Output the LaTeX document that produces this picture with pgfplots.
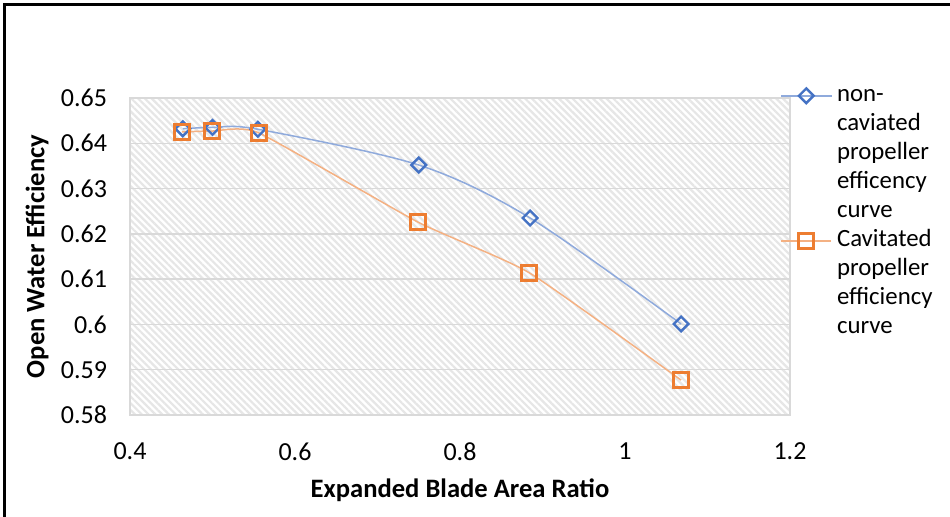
\documentclass[border=0pt]{standalone}
\usepackage{fontspec}
\setmainfont{Carlito}
\usepackage{pgfplots}
\pgfplotsset{compat=1.18}
\usetikzlibrary{patterns.meta}
\definecolor{bluemark}{HTML}{4472C4}
\definecolor{blueline}{HTML}{8FAADC}
\definecolor{orangemark}{HTML}{ED7D31}
\definecolor{orangeline}{HTML}{F4B183}
\definecolor{gridgray}{HTML}{D9D9D9}
\definecolor{hatchgray}{HTML}{E6E6E6}
\begin{document}
\begin{tikzpicture}
\useasboundingbox (0,0) rectangle (475pt,258.5pt);
\draw[line width=1.5pt] (2.25pt,-5pt) -- (2.25pt,256.25pt) -- (480pt,256.25pt);
\begin{axis}[
  at={(65pt,51pt)}, anchor=south west,
  scale only axis, width=330pt, height=158.5pt,
  xmin=0.4, xmax=1.2, ymin=0.58, ymax=0.65,
  xtick={0.4,0.6,0.8,1.0,1.2},
  xticklabels={0.4,0.6,0.8,1,1.2},
  ytick={0.58,0.59,0.60,0.61,0.62,0.63,0.64,0.65},
  yticklabels={0.58,0.59,0.6,0.61,0.62,0.63,0.64,0.65},
  major tick length=0pt,
  /pgf/number format/assume math mode=true,
  tick label style={font=\fontsize{13}{15.5}\selectfont},
  yticklabel style={xshift=-8pt},
  xticklabel style={yshift=-10.5pt},
  ymajorgrids, major grid style={gridgray, line width=0.75pt},
  axis line style={gridgray, line width=0.75pt},
  axis background/.style={preaction={fill=white}, pattern={Lines[angle=-45,distance=2.4pt,line width=1.1pt]}, pattern color=hatchgray},
  xlabel={\textbf{Expanded Blade Area Ratio}},
  ylabel={\textbf{Open Water Efficiency}},
  label style={font=\fontsize{13.3}{15.5}\selectfont},
  xlabel style={at={(axis description cs:0.5,0)}, anchor=center, yshift=-37.5pt},
  ylabel style={at={(axis description cs:-0.1409,0.5)}, anchor=center},
  legend image code/.code={\draw[mark repeat=2,mark phase=2,#1] plot coordinates {(0pt,0pt) (12.5pt,0pt) (25pt,0pt)};},
  legend style={draw=none, fill=none, at={(axis description cs:0.976,1.065)}, anchor=north west,
    font=\fontsize{12.4}{14.5}\selectfont, nodes={inner sep=1pt, text height=9pt, text depth=3pt}, row sep=0.5pt},
  legend cell align=left,
]
\addplot[blueline, line width=0.75pt, smooth, tension=0.5, mark=square, mark size=2.6pt,
  mark options={rotate=45, draw=bluemark, fill=white, line width=1.2pt, solid}]
  coordinates {(0.464,0.6432) (0.500,0.6435) (0.555,0.6431) (0.750,0.6352) (0.885,0.6235) (1.068,0.6001)};
\addlegendentry{\hspace{1.5pt}non-}
\addlegendimage{empty legend}\addlegendentry{\hspace{1.5pt}caviated}
\addlegendimage{empty legend}\addlegendentry{\hspace{1.5pt}propeller}
\addlegendimage{empty legend}\addlegendentry{\hspace{1.5pt}efficency}
\addlegendimage{empty legend}\addlegendentry{\hspace{1.5pt}curve}
\addplot[orangeline, line width=0.75pt, smooth, tension=0.3, mark=square, mark size=3.75pt,
  mark options={draw=orangemark, fill=white, line width=1.5pt, solid}]
  coordinates {(0.463,0.6425) (0.500,0.6427) (0.556,0.6423) (0.749,0.6226) (0.884,0.6114) (1.068,0.5877)};
\addlegendentry{\hspace{1.5pt}Cavitated}
\addlegendimage{empty legend}\addlegendentry{\hspace{1.5pt}propeller}
\addlegendimage{empty legend}\addlegendentry{\hspace{1.5pt}efficiency}
\addlegendimage{empty legend}\addlegendentry{\hspace{1.5pt}curve}
\end{axis}
\end{tikzpicture}
\end{document}
